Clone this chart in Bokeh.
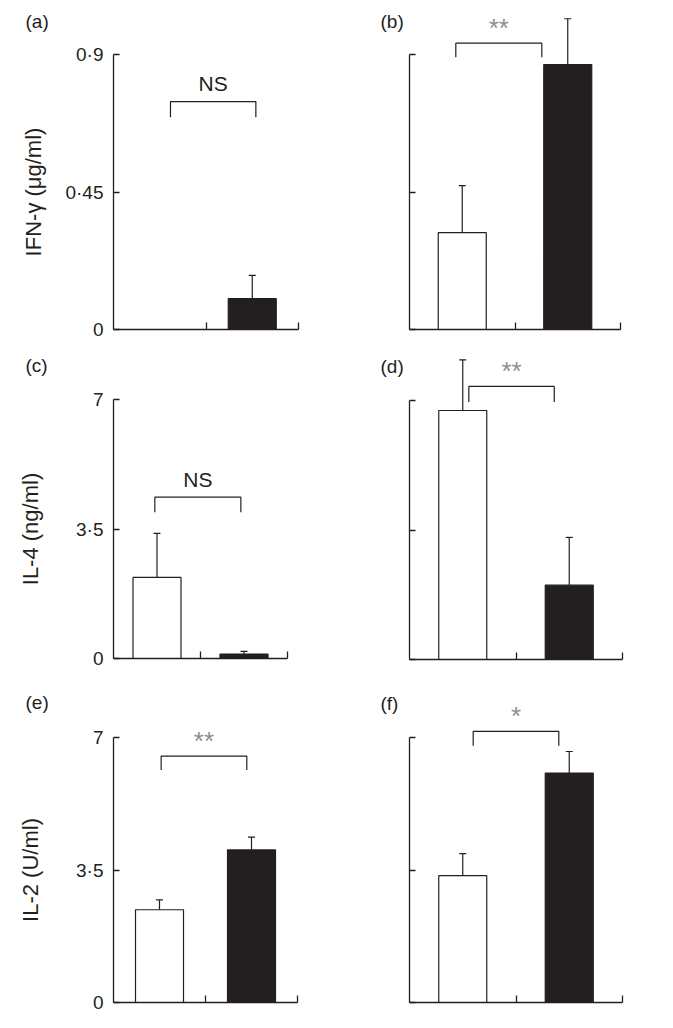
import math
from bokeh.plotting import figure
from bokeh.models import Range1d, FixedTicker, Label, Whisker, TeeHead, ColumnDataSource
from bokeh.layouts import column, row
from bokeh.embed import file_html
from bokeh.resources import INLINE

# ---------------- data ----------------
groups = ["Group 1", "Group 2"]          # white bar, black bar
bar_colors = ["white", "#231f20"]

ifn_a = [0.0, 0.101]
ifn_a_err = [0.0, 0.076]
ifn_b = [0.317, 0.867]
ifn_b_err = [0.154, 0.150]

il4_c = [2.19, 0.12]
il4_c_err = [1.19, 0.07]
il4_d = [6.73, 2.01]
il4_d_err = [1.37, 1.29]

il2_e = [2.45, 4.03]
il2_e_err = [0.26, 0.34]
il2_f = [3.35, 6.06]
il2_f_err = [0.58, 0.57]

significance = ["NS", "**", "NS", "**", "**", "*"]
panel_letters = ["(a)", "(b)", "(c)", "(d)", "(e)", "(f)"]
y_titles = ["IFN-γ (μg/ml)", None, "IL-4 (ng/ml)", None, "IL-2 (U/ml)", None]

ifn_ticks = [0, 0.45, 0.9]
ifn_tick_labels = ["0", "0·45", "0·9"]
il_ticks = [0, 3.5, 7]
il_tick_labels = ["0", "3·5", "7"]

# bracket ends (x0, x1) and heights (top, leg end) in data units
brackets = [
    (0.616, 1.539, 0.746, 0.695),
    (0.439, 1.254, 0.937, 0.891),
    (0.475, 1.464, 4.36, 3.95),
    (0.557, 1.359, 7.38, 6.96),
    (0.518, 1.449, 6.51, 6.14),
    (0.598, 1.402, 7.16, 6.78),
]

# ---------------- layout geometry ----------------
FONT = "Liberation Sans"
INK = "#231f20"
# canvas width, height, axis left px, axis right px, axis bottom px, px from zero to top tick
geom = [
    (344, 340, 113, 298, 329, 275),
    (321, 340, 65, 276, 329, 275),
    (344, 340, 113, 287, 318, 259),
    (321, 340, 65, 278, 319, 259),
    (344, 340, 113, 297, 322, 265),
    (321, 340, 65, 278, 322, 265),
]
# panel letter position on each canvas (x, y from top)
letter_pos = [(25, 21), (36, 21), (25, 25), (36, 26), (25, 22), (36, 23)]
title_standoff = [16, None, 30, None, 30, None]

panels = [
    (ifn_a, ifn_a_err, ifn_ticks, ifn_tick_labels),
    (ifn_b, ifn_b_err, ifn_ticks, ifn_tick_labels),
    (il4_c, il4_c_err, il_ticks, il_tick_labels),
    (il4_d, il4_d_err, il_ticks, il_tick_labels),
    (il2_e, il2_e_err, il_ticks, il_tick_labels),
    (il2_f, il2_f_err, il_ticks, il_tick_labels),
]

figs = []
for i, (vals, errs, ticks, tlabels) in enumerate(panels):
    w, h, ax_l, ax_r, ax_b, tick_span = geom[i]
    ppu = (ax_r - ax_l) / 2.0               # pixels per x unit
    x_start = -ax_l / ppu
    x_end = 2 + (w - ax_r) / ppu
    ppy = tick_span / ticks[-1]             # pixels per y unit
    y_start = -(h - ax_b) / ppy
    y_end = ax_b / ppy
    left = (i % 2 == 0)

    p = figure(width=w, height=h, output_backend="svg", toolbar_location=None,
               x_range=Range1d(x_start, x_end), y_range=Range1d(y_start, y_end),
               min_border_left=0, min_border_right=0,
               min_border_top=0, min_border_bottom=0)
    p.outline_line_color = None
    p.grid.visible = False
    p.background_fill_color = "white"
    p.border_fill_color = "white"

    xs = [0.5 + k for k in range(len(groups))]
    bar_w = 48 / ppu
    src = ColumnDataSource(dict(x=xs, top=vals, color=bar_colors, name=groups))
    p.vbar(x="x", top="top", bottom=0, width=bar_w, source=src,
           fill_color="color", line_color=INK, line_width=1.2)

    keep = [k for k in range(len(groups)) if errs[k] > 0]
    wsrc = ColumnDataSource(dict(x=[xs[k] for k in keep], lower=[vals[k] for k in keep],
                                 upper=[vals[k] + errs[k] for k in keep]))
    p.add_layout(Whisker(source=wsrc, base="x", lower="lower", upper="upper",
                         dimension="height", line_color=INK, line_width=1.2,
                         lower_head=None,
                         upper_head=TeeHead(size=7, line_color=INK, line_width=1.2)))

    # significance bracket
    x0, x1, top, leg = brackets[i]
    p.line([x0, x0, x1, x1], [leg, top, top, leg], line_color=INK, line_width=1.2)
    s = significance[i]
    is_star = s.startswith("*")
    p.add_layout(Label(x=(x0 + x1) / 2, y=top, text=s, text_align="center",
                       text_baseline="middle", y_offset=15 if is_star else 18,
                       text_font=FONT, text_font_size="26px" if is_star else "21px",
                       text_color="#8f8f8f" if is_star else INK))

    # axes
    xa = p.xaxis[0]
    xa.fixed_location = 0
    xa.ticker = FixedTicker(ticks=[1, 2])
    xa.bounds = (0, 2)
    xa.major_label_text_font_size = "1px"
    xa.major_label_text_color = None
    xa.major_label_standoff = 0
    xa.major_tick_in = 7
    xa.major_tick_out = 0
    xa.minor_tick_line_color = None
    xa.axis_line_color = INK
    xa.major_tick_line_color = INK
    xa.axis_line_width = 1.3
    xa.major_tick_line_width = 1.3

    ya = p.yaxis[0]
    ya.fixed_location = 0
    ya.ticker = FixedTicker(ticks=ticks)
    ya.bounds = (ticks[0], ticks[-1])
    ya.major_tick_in = 6
    ya.major_tick_out = 0
    ya.minor_tick_line_color = None
    ya.axis_line_color = INK
    ya.major_tick_line_color = INK
    ya.axis_line_width = 1.3
    ya.major_tick_line_width = 1.3
    if left:
        ya.major_label_overrides = {t: l for t, l in zip(ticks, tlabels)}
        ya.major_label_text_font = FONT
        ya.major_label_text_font_size = "19px"
        ya.major_label_text_color = INK
        ya.major_label_standoff = 10
        ya.axis_label = y_titles[i]
        ya.axis_label_text_font = FONT
        ya.axis_label_text_font_size = "22px"
        ya.axis_label_text_font_style = "normal"
        ya.axis_label_text_color = INK
        ya.axis_label_standoff = title_standoff[i]
    else:
        ya.major_label_text_font_size = "1px"
        ya.major_label_text_color = None
        ya.major_label_standoff = 0

    # panel letter
    lx, ly = letter_pos[i]
    p.add_layout(Label(x=lx, y=ly, x_units="canvas", y_units="canvas",
                       text=panel_letters[i], text_align="left", text_baseline="middle",
                       text_font=FONT, text_font_size="19px", text_color=INK))
    figs.append(p)

layout = column(row(figs[0], figs[1]), row(figs[2], figs[3]), row(figs[4], figs[5]))
open("out.html", "w").write(file_html(layout, INLINE))
